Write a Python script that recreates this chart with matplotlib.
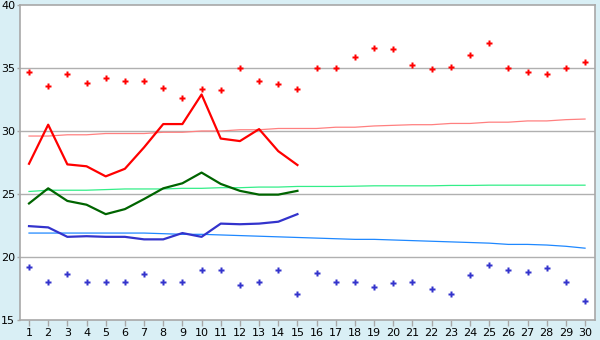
import matplotlib
matplotlib.use('Agg')
import matplotlib.pyplot as plt

# data ---------------------------------------------------------------------
days = list(range(1, 31))

max_points = [34.7, 33.6, 34.5, 33.8, 34.2, 34.0, 34.0, 33.4, 32.6, 33.3,
              33.25, 35.0, 34.0, 33.7, 33.3, 35.0, 35.0, 35.85, 36.6, 36.5,
              35.2, 34.9, 35.1, 36.0, 37.0, 35.0, 34.7, 34.5, 35.0, 35.45]
min_points = [19.2, 18.0, 18.65, 18.0, 18.0, 18.0, 18.65, 18.0, 18.0, 18.95,
              19.0, 17.75, 18.0, 18.95, 17.05, 18.7, 18.0, 18.0, 17.6, 17.9,
              18.0, 17.45, 17.05, 18.55, 19.35, 19.0, 18.8, 19.1, 18.0, 16.5]

line_days = list(range(1, 16))
max_line = [27.4, 30.5, 27.35, 27.2, 26.4, 27.0, 28.7, 30.55, 30.55, 32.9,
            29.4, 29.2, 30.15, 28.4, 27.3]
mean_line = [24.25, 25.45, 24.45, 24.15, 23.4, 23.8, 24.6, 25.45, 25.85, 26.7,
             25.8, 25.25, 24.95, 24.95, 25.25]
min_line = [22.45, 22.35, 21.6, 21.65, 21.6, 21.6, 21.4, 21.4, 21.9, 21.6,
            22.65, 22.6, 22.65, 22.8, 23.4]

normal_max = [29.6, 29.6, 29.7, 29.7, 29.8, 29.8, 29.8, 29.9, 29.9, 30.0,
              30.0, 30.1, 30.1, 30.2, 30.2, 30.2, 30.3, 30.3, 30.4, 30.45,
              30.5, 30.5, 30.6, 30.6, 30.7, 30.7, 30.8, 30.8, 30.9, 30.95]
normal_mean = [25.2, 25.3, 25.3, 25.3, 25.35, 25.4, 25.4, 25.4, 25.45, 25.45,
               25.5, 25.5, 25.55, 25.55, 25.6, 25.6, 25.6, 25.62, 25.65, 25.65,
               25.65, 25.65, 25.68, 25.68, 25.7, 25.7, 25.7, 25.7, 25.7, 25.7]
normal_min = [21.9, 21.9, 21.9, 21.9, 21.9, 21.9, 21.9, 21.85, 21.8, 21.8,
              21.75, 21.7, 21.65, 21.6, 21.55, 21.5, 21.45, 21.4, 21.4, 21.35,
              21.3, 21.25, 21.2, 21.15, 21.1, 21.0, 21.0, 20.95, 20.85, 20.7]

y_ticks = [15, 20, 25, 30, 35, 40]

# plot ---------------------------------------------------------------------
bg = '#D9EFF5'
edge = '#A8A8A8'

fig = plt.figure(figsize=(6, 3.4), dpi=100, facecolor=bg)
ax = fig.add_axes([20 / 600, 20 / 340, 575 / 600, 315 / 340])
ax.set_facecolor('white')

for y in y_ticks[1:-1]:
    ax.axhline(y, color='#B0B0B0', lw=1.0, zorder=1)

ax.plot(days, normal_max, color='#FF8080', lw=0.9, zorder=2)
ax.plot(days, normal_mean, color='#33EE88', lw=0.9, zorder=2)
ax.plot(days, normal_min, color='#1E88FF', lw=0.9, zorder=2)

ax.plot(line_days, max_line, color='#FF0000', lw=1.6, zorder=3)
ax.plot(line_days, mean_line, color='#006400', lw=1.6, zorder=3)
ax.plot(line_days, min_line, color='#3333CC', lw=1.6, zorder=3)

ax.plot(days, max_points, ls='none', marker='P', ms=4.5, color='#FF0000',
        mec='none', zorder=4)
ax.plot(days, min_points, ls='none', marker='P', ms=4.5, color='#3333CC',
        mec='none', zorder=4)

ax.set_xlim(0.53, 30.52)
ax.set_ylim(15, 40)
ax.set_xticks(days)
ax.set_yticks(y_ticks)
ax.tick_params(axis='x', length=4, width=1, color=edge, labelsize=8,
               pad=2, labelcolor='black')
ax.tick_params(axis='y', length=2.5, width=1, color=edge, labelsize=8,
               pad=1, labelcolor='black')

for s in ax.spines.values():
    s.set_color(edge)
    s.set_linewidth(1.2)

fig.savefig('out.png', dpi=100, facecolor=bg)
